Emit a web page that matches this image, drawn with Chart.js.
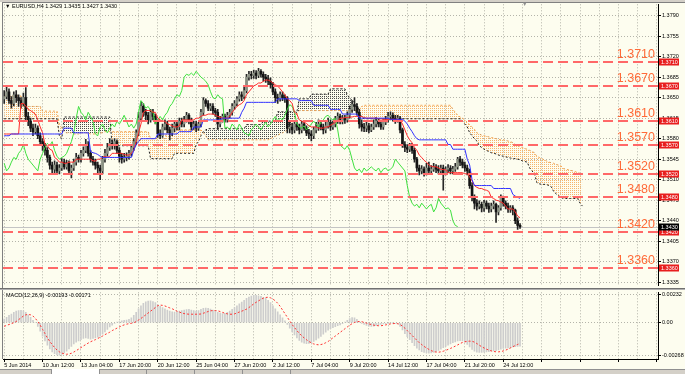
<!DOCTYPE html>
<html>
<head>
<meta charset="utf-8">
<script src="https://cdn.jsdelivr.net/npm/chart.js@4.4.1/dist/chart.umd.min.js"></script>
<style>
  body { margin:0; background:#fdfdef; }
  #wrap { position:relative; width:685px; height:374px; background:#fdfdef; overflow:hidden; font-family:"Liberation Sans","DejaVu Sans",sans-serif; }
  canvas { position:absolute; left:0; }
  .hdr { position:absolute; font-size:5.5px; color:#000; white-space:nowrap; line-height:7px; z-index:5; }
  .ln { position:absolute; z-index:4; }
</style>
</head>
<body>
<div id="wrap">
  <canvas id="c1" width="685" height="290" style="top:0"></canvas>
  <canvas id="c2" width="685" height="81" style="top:288px"></canvas>
  <div class="ln" style="left:0;top:0;width:685px;height:2px;background:#d4d0c8"></div>
  <div class="ln" style="left:2px;top:2px;width:683px;height:1px;background:#808080"></div>
  <div class="ln" style="left:2px;top:2px;width:1px;height:357px;background:#808080"></div>
  <div class="ln" style="left:0;top:288px;width:685px;height:1px;background:#707070"></div>
  <div class="ln" style="left:0;top:289px;width:685px;height:1px;background:#b0b0b0"></div>
  <div class="ln" style="left:0;top:369px;width:685px;height:5px;background:#d4d0c8"></div>
  <div class="ln" style="left:0;top:369px;width:685px;height:1px;background:#909090"></div>
  <div class="ln" style="left:51px;top:369px;width:47px;height:5px;background:#ffffff;border-left:1px solid #909090;border-right:1px solid #909090"></div>
  <div class="ln" style="left:146px;top:369px;width:1px;height:5px;background:#909090"></div>
  <div class="ln" style="left:194px;top:369px;width:1px;height:5px;background:#909090"></div>
  <div class="ln" style="left:242px;top:369px;width:1px;height:5px;background:#909090"></div>
  <div class="ln" style="left:290px;top:369px;width:1px;height:5px;background:#909090"></div>
  <div class="hdr" style="left:5px;top:3px">▼ EURUSD,H4 1.3429 1.3435 1.3427 1.3430</div>
  <div class="hdr" style="left:522px;top:1px;color:#909090">▼</div>
  <div class="hdr" style="left:6px;top:292px">MACD(12,26,9) -0.00193 -0.00171</div>
</div>
<script>
// ---------- data ----------
const xTickLabels = ['5 Jun 2014','10 Jun 12:00','13 Jun 04:00','17 Jun 20:00','20 Jun 12:00','25 Jun 04:00','27 Jun 20:00','2 Jul 12:00','7 Jul 04:00','9 Jul 20:00','14 Jul 12:00','17 Jul 04:00','21 Jul 20:00','24 Jul 12:00'];
const priceTicks = [1.3790,1.3755,1.3720,1.3685,1.3650,1.3615,1.3580,1.3545,1.3510,1.3475,1.3440,1.3405,1.3370,1.3335];
const levels = [1.3710,1.3670,1.3610,1.3570,1.3520,1.3480,1.3420,1.3360];
const lastPrice = 1.3430;
const macdTicks = [0.00232, 0, -0.00268];
const macdTickLabels = ['0.00232','0.00','-0.00268'];
const firstOpen = 1.3648;

const close = [
1.3652,1.3660,1.3645,1.3640,1.3655,1.3650,1.3645,1.3640,1.3650,1.3618,
1.3610,1.3598,1.3592,1.3598,1.3585,1.3575,1.3568,1.3560,1.3548,1.3535,
1.3528,1.3535,1.3525,1.3530,1.3540,1.3532,1.3538,1.3525,1.3530,1.3540,
1.3548,1.3545,1.3555,1.3560,1.3570,1.3555,1.3545,1.3540,1.3535,1.3530,
1.3525,1.3545,1.3555,1.3565,1.3572,1.3568,1.3575,1.3560,1.3550,1.3545,
1.3548,1.3550,1.3555,1.3565,1.3575,1.3590,1.3615,1.3635,1.3625,1.3620,
1.3612,1.3625,1.3618,1.3610,1.3588,1.3585,1.3600,1.3605,1.3595,1.3590,
1.3598,1.3605,1.3600,1.3610,1.3605,1.3612,1.3620,1.3610,1.3600,1.3605,
1.3598,1.3605,1.3625,1.3645,1.3640,1.3632,1.3635,1.3628,1.3625,1.3605,
1.3612,1.3618,1.3612,1.3620,1.3625,1.3635,1.3640,1.3648,1.3655,1.3652,
1.3662,1.3685,1.3690,1.3688,1.3692,1.3688,1.3695,1.3690,1.3685,1.3682,
1.3678,1.3672,1.3660,1.3650,1.3648,1.3655,1.3650,1.3648,1.3598,1.3600,
1.3595,1.3605,1.3600,1.3595,1.3605,1.3598,1.3590,1.3588,1.3585,1.3595,
1.3600,1.3605,1.3600,1.3595,1.3602,1.3608,1.3600,1.3605,1.3612,1.3618,
1.3610,1.3615,1.3612,1.3620,1.3630,1.3638,1.3635,1.3625,1.3605,1.3600,
1.3598,1.3602,1.3595,1.3600,1.3605,1.3610,1.3605,1.3600,1.3608,1.3612,
1.3618,1.3620,1.3615,1.3612,1.3615,1.3595,1.3570,1.3565,1.3562,1.3568,
1.3560,1.3545,1.3530,1.3525,1.3528,1.3522,1.3530,1.3525,1.3528,1.3532,
1.3528,1.3525,1.3530,1.3522,1.3528,1.3530,1.3525,1.3528,1.3532,1.3545,
1.3540,1.3535,1.3530,1.3525,1.3500,1.3480,1.3470,1.3465,1.3468,1.3462,
1.3470,1.3465,1.3460,1.3465,1.3468,1.3455,1.3462,1.3478,1.3470,1.3465,
1.3460,1.3462,1.3458,1.3440,1.3432,1.3430];

const high = [
1.3662,1.3668,1.3665,1.3652,1.3660,1.3662,1.3655,1.3650,1.3658,1.3667,
1.3625,1.3615,1.3605,1.3605,1.3602,1.3590,1.3580,1.3572,1.3565,1.3552,
1.3540,1.3542,1.3540,1.3536,1.3546,1.3545,1.3543,1.3542,1.3535,1.3545,
1.3555,1.3552,1.3560,1.3566,1.3579,1.3575,1.3560,1.3550,1.3545,1.3540,
1.3535,1.3550,1.3562,1.3572,1.3580,1.3578,1.3580,1.3578,1.3565,1.3555,
1.3555,1.3556,1.3560,1.3570,1.3580,1.3595,1.3625,1.3643,1.3640,1.3630,
1.3625,1.3630,1.3630,1.3622,1.3612,1.3595,1.3605,1.3612,1.3610,1.3600,
1.3605,1.3610,1.3610,1.3615,1.3615,1.3618,1.3625,1.3623,1.3615,1.3610,
1.3610,1.3608,1.3630,1.3650,1.3648,1.3645,1.3640,1.3640,1.3632,1.3630,
1.3618,1.3622,1.3622,1.3625,1.3630,1.3640,1.3645,1.3652,1.3660,1.3660,
1.3668,1.3690,1.3695,1.3695,1.3697,1.3696,1.3700,1.3698,1.3694,1.3690,
1.3688,1.3684,1.3676,1.3665,1.3656,1.3660,1.3660,1.3655,1.3652,1.3608,
1.3606,1.3610,1.3610,1.3605,1.3610,1.3610,1.3602,1.3596,1.3594,1.3600,
1.3608,1.3612,1.3610,1.3605,1.3608,1.3615,1.3612,1.3610,1.3618,1.3624,
1.3622,1.3620,1.3620,1.3626,1.3636,1.3645,1.3650,1.3640,1.3630,1.3612,
1.3606,1.3608,1.3606,1.3605,1.3612,1.3616,1.3614,1.3610,1.3612,1.3618,
1.3625,1.3626,1.3624,1.3620,1.3620,1.3618,1.3598,1.3575,1.3570,1.3572,
1.3572,1.3564,1.3548,1.3535,1.3534,1.3532,1.3538,1.3540,1.3534,1.3538,
1.3536,1.3534,1.3535,1.3535,1.3532,1.3536,1.3534,1.3533,1.3538,1.3548,
1.3550,1.3545,1.3540,1.3535,1.3528,1.3505,1.3484,1.3476,1.3474,1.3472,
1.3475,1.3474,1.3470,1.3470,1.3474,1.3470,1.3466,1.3484,1.3482,1.3474,
1.3470,1.3466,1.3466,1.3460,1.3445,1.3435];

const low = [
1.3640,1.3648,1.3640,1.3632,1.3636,1.3642,1.3635,1.3632,1.3636,1.3612,
1.3602,1.3592,1.3585,1.3588,1.3580,1.3570,1.3560,1.3552,1.3540,1.3528,
1.3520,1.3522,1.3520,1.3520,1.3526,1.3528,1.3528,1.3522,1.3513,1.3526,
1.3535,1.3540,1.3540,1.3550,1.3556,1.3550,1.3540,1.3535,1.3528,1.3522,
1.3510,1.3520,1.3540,1.3550,1.3560,1.3562,1.3562,1.3555,1.3540,1.3538,
1.3540,1.3542,1.3545,1.3550,1.3560,1.3570,1.3585,1.3610,1.3618,1.3612,
1.3605,1.3608,1.3612,1.3605,1.3582,1.3580,1.3582,1.3595,1.3590,1.3578,
1.3585,1.3592,1.3595,1.3595,1.3600,1.3600,1.3608,1.3605,1.3595,1.3596,
1.3592,1.3594,1.3600,1.3620,1.3635,1.3628,1.3628,1.3622,1.3618,1.3596,
1.3600,1.3608,1.3608,1.3608,1.3615,1.3620,1.3630,1.3636,1.3644,1.3645,
1.3648,1.3658,1.3680,1.3682,1.3683,1.3682,1.3684,1.3685,1.3678,1.3676,
1.3672,1.3666,1.3655,1.3642,1.3640,1.3644,1.3645,1.3642,1.3590,1.3590,
1.3588,1.3590,1.3594,1.3588,1.3590,1.3594,1.3585,1.3580,1.3576,1.3580,
1.3590,1.3594,1.3595,1.3588,1.3590,1.3598,1.3594,1.3596,1.3600,1.3606,
1.3605,1.3605,1.3606,1.3608,1.3615,1.3625,1.3628,1.3620,1.3598,1.3593,
1.3592,1.3592,1.3590,1.3592,1.3596,1.3600,1.3600,1.3596,1.3596,1.3604,
1.3608,1.3612,1.3610,1.3606,1.3608,1.3590,1.3565,1.3558,1.3556,1.3558,
1.3555,1.3540,1.3524,1.3518,1.3520,1.3516,1.3518,1.3520,1.3520,1.3524,
1.3522,1.3520,1.3520,1.3492,1.3518,1.3522,1.3520,1.3520,1.3524,1.3528,
1.3534,1.3530,1.3524,1.3518,1.3495,1.3474,1.3460,1.3458,1.3460,1.3455,
1.3456,1.3460,1.3454,1.3455,1.3460,1.3437,1.3450,1.3458,1.3465,1.3460,
1.3454,1.3454,1.3450,1.3435,1.3425,1.3427];

const tenkan = [
1.3588,1.3588,1.3588,1.3588,1.3588,1.3588,1.3588,1.3640,1.3640,1.3636,
1.3630,1.3628,1.3625,1.3622,1.3612,1.3600,1.3590,1.3570,1.3568,1.3562,
1.3560,1.3548,1.3545,1.3540,1.3540,1.3538,1.3538,1.3540,1.3540,1.3540,
1.3545,1.3545,1.3545,1.3545,1.3545,1.3545,1.3545,1.3542,1.3542,1.3545,
1.3545,1.3548,1.3550,1.3548,1.3550,1.3555,1.3555,1.3555,1.3555,1.3555,
1.3553,1.3552,1.3552,1.3555,1.3560,1.3575,1.3590,1.3605,1.3625,1.3628,
1.3628,1.3628,1.3625,1.3625,1.3615,1.3612,1.3610,1.3610,1.3605,1.3604,
1.3602,1.3600,1.3600,1.3602,1.3612,1.3612,1.3612,1.3612,1.3612,1.3612,
1.3615,1.3615,1.3618,1.3620,1.3620,1.3622,1.3622,1.3622,1.3620,1.3618,
1.3617,1.3615,1.3615,1.3615,1.3618,1.3625,1.3630,1.3635,1.3638,1.3640,
1.3645,1.3655,1.3660,1.3665,1.3670,1.3672,1.3675,1.3675,1.3678,1.3680,
1.3680,1.3678,1.3675,1.3672,1.3670,1.3665,1.3660,1.3655,1.3648,1.3645,
1.3640,1.3625,1.3622,1.3612,1.3610,1.3608,1.3606,1.3602,1.3600,1.3600,
1.3600,1.3598,1.3598,1.3598,1.3600,1.3600,1.3603,1.3605,1.3608,1.3610,
1.3615,1.3615,1.3616,1.3616,1.3617,1.3617,1.3618,1.3618,1.3618,1.3618,
1.3616,1.3615,1.3615,1.3615,1.3615,1.3615,1.3614,1.3614,1.3613,1.3613,
1.3613,1.3613,1.3613,1.3613,1.3613,1.3612,1.3605,1.3595,1.3585,1.3578,
1.3573,1.3565,1.3560,1.3552,1.3548,1.3543,1.3540,1.3535,1.3533,1.3532,
1.3532,1.3530,1.3528,1.3527,1.3527,1.3522,1.3522,1.3522,1.3522,1.3522,
1.3522,1.3522,1.3520,1.3520,1.3515,1.3508,1.3500,1.3497,1.3495,1.3495,
1.3493,1.3492,1.3490,1.3480,1.3478,1.3475,1.3474,1.3472,1.3470,1.3465,
1.3460,1.3460,1.3460,1.3455,1.3448,1.3445];

const kijun = [
1.3585,1.3585,1.3585,1.3588,1.3588,1.3588,1.3588,1.3588,1.3588,1.3588,
1.3588,1.3588,1.3588,1.3588,1.3588,1.3588,1.3588,1.3588,1.3588,1.3588,
1.3588,1.3588,1.3588,1.3588,1.3588,1.3598,1.3598,1.3598,1.3598,1.3590,
1.3590,1.3590,1.3590,1.3590,1.3590,1.3590,1.3558,1.3556,1.3555,1.3553,
1.3550,1.3548,1.3548,1.3548,1.3548,1.3548,1.3548,1.3548,1.3548,1.3548,
1.3548,1.3548,1.3548,1.3548,1.3560,1.3570,1.3575,1.3580,1.3580,1.3580,
1.3580,1.3580,1.3580,1.3580,1.3588,1.3588,1.3588,1.3588,1.3588,1.3588,
1.3588,1.3588,1.3588,1.3592,1.3592,1.3592,1.3592,1.3592,1.3592,1.3600,
1.3600,1.3600,1.3600,1.3612,1.3612,1.3612,1.3612,1.3612,1.3612,1.3612,
1.3612,1.3615,1.3615,1.3615,1.3615,1.3615,1.3615,1.3615,1.3615,1.3625,
1.3632,1.3642,1.3642,1.3642,1.3642,1.3642,1.3642,1.3642,1.3642,1.3642,
1.3642,1.3642,1.3642,1.3642,1.3648,1.3648,1.3648,1.3648,1.3648,1.3648,
1.3648,1.3648,1.3648,1.3645,1.3645,1.3645,1.3645,1.3645,1.3645,1.3637,
1.3637,1.3637,1.3637,1.3637,1.3637,1.3637,1.3630,1.3630,1.3630,1.3630,
1.3630,1.3622,1.3622,1.3622,1.3622,1.3622,1.3622,1.3622,1.3615,1.3615,
1.3615,1.3615,1.3615,1.3615,1.3615,1.3615,1.3615,1.3615,1.3615,1.3615,
1.3615,1.3613,1.3613,1.3613,1.3613,1.3613,1.3613,1.3610,1.3605,1.3598,
1.3592,1.3585,1.3580,1.3578,1.3578,1.3578,1.3578,1.3578,1.3578,1.3578,
1.3578,1.3578,1.3578,1.3578,1.3578,1.3570,1.3570,1.3562,1.3562,1.3562,
1.3562,1.3562,1.3562,1.3545,1.3535,1.3510,1.3500,1.3500,1.3500,1.3500,
1.3500,1.3500,1.3500,1.3500,1.3495,1.3495,1.3495,1.3495,1.3495,1.3495,
1.3495,1.3495,1.3485,1.3482,1.3480,1.3478];

const senkouA = [
1.3653,1.3653,1.3653,1.3653,1.3653,1.3653,1.3653,1.3653,1.3635,1.3635,
1.3635,1.3635,1.3635,1.3635,1.3635,1.3635,1.3627,1.3627,1.3627,1.3627,
1.3627,1.3627,1.3627,1.3605,1.3598,1.3592,1.3590,1.3590,1.3590,1.3588,
1.3588,1.3588,1.3590,1.3590,1.3590,1.3590,1.3588,1.3588,1.3588,1.3590,
1.3590,1.3590,1.3592,1.3592,1.3592,1.3592,1.3592,1.3592,1.3592,1.3592,
1.3592,1.3592,1.3592,1.3592,1.3592,1.3592,1.3592,1.3592,1.3592,1.3592,
1.3592,1.3580,1.3580,1.3580,1.3580,1.3580,1.3580,1.3580,1.3595,1.3595,
1.3595,1.3595,1.3595,1.3595,1.3595,1.3595,1.3595,1.3595,1.3595,1.3595,
1.3595,1.3595,1.3595,1.3590,1.3585,1.3578,1.3578,1.3578,1.3578,1.3578,
1.3578,1.3578,1.3578,1.3578,1.3578,1.3578,1.3578,1.3578,1.3578,1.3578,
1.3578,1.3578,1.3578,1.3578,1.3578,1.3578,1.3578,1.3578,1.3578,1.3578,
1.3578,1.3580,1.3582,1.3584,1.3586,1.3588,1.3590,1.3592,1.3595,1.3600,
1.3607,1.3615,1.3622,1.3628,1.3628,1.3628,1.3628,1.3628,1.3628,1.3628,
1.3628,1.3628,1.3628,1.3628,1.3628,1.3628,1.3628,1.3628,1.3628,1.3628,
1.3628,1.3628,1.3628,1.3628,1.3628,1.3628,1.3628,1.3628,1.3632,1.3635,
1.3637,1.3637,1.3637,1.3637,1.3637,1.3637,1.3637,1.3637,1.3637,1.3637,
1.3637,1.3637,1.3637,1.3637,1.3637,1.3637,1.3637,1.3637,1.3637,1.3637,
1.3637,1.3637,1.3637,1.3637,1.3637,1.3637,1.3637,1.3637,1.3637,1.3637,
1.3637,1.3637,1.3637,1.3637,1.3637,1.3637,1.3637,1.3630,1.3625,1.3620,
1.3617,1.3615,1.3612,1.3608,1.3604,1.3600,1.3596,1.3590,1.3588,1.3586,
1.3585,1.3584,1.3583,1.3582,1.3581,1.3580,1.3579,1.3578,1.3578,1.3577,
1.3576,1.3575,1.3573,1.3570,1.3568,1.3566,1.3565,1.3563,1.3562,1.3560,
1.3558,1.3556,1.3550,1.3548,1.3546,1.3544,1.3542,1.3540,1.3539,1.3538,
1.3536,1.3535,1.3534,1.3529,1.3528,1.3527,1.3526,1.3525,1.3524,1.3522,
1.3521,1.3520];

const senkouB = [
1.3614,1.3614,1.3614,1.3614,1.3614,1.3614,1.3614,1.3614,1.3614,1.3614,
1.3614,1.3614,1.3614,1.3614,1.3614,1.3614,1.3614,1.3614,1.3614,1.3614,
1.3614,1.3614,1.3614,1.3585,1.3580,1.3617,1.3617,1.3617,1.3617,1.3617,
1.3617,1.3617,1.3617,1.3617,1.3617,1.3617,1.3617,1.3617,1.3617,1.3617,
1.3617,1.3617,1.3617,1.3617,1.3617,1.3568,1.3568,1.3568,1.3568,1.3568,
1.3568,1.3568,1.3568,1.3568,1.3568,1.3568,1.3568,1.3568,1.3568,1.3568,
1.3568,1.3546,1.3546,1.3546,1.3546,1.3546,1.3546,1.3546,1.3546,1.3546,
1.3546,1.3555,1.3555,1.3555,1.3555,1.3555,1.3555,1.3555,1.3555,1.3555,
1.3570,1.3575,1.3585,1.3592,1.3595,1.3597,1.3597,1.3597,1.3597,1.3597,
1.3597,1.3597,1.3597,1.3597,1.3597,1.3597,1.3597,1.3597,1.3597,1.3597,
1.3597,1.3604,1.3604,1.3604,1.3604,1.3604,1.3604,1.3604,1.3610,1.3610,
1.3610,1.3610,1.3610,1.3610,1.3626,1.3626,1.3626,1.3626,1.3626,1.3626,
1.3626,1.3626,1.3626,1.3648,1.3648,1.3648,1.3648,1.3648,1.3656,1.3656,
1.3656,1.3656,1.3656,1.3656,1.3656,1.3656,1.3665,1.3665,1.3665,1.3665,
1.3665,1.3665,1.3665,1.3655,1.3650,1.3645,1.3642,1.3640,1.3625,1.3616,
1.3614,1.3614,1.3614,1.3614,1.3614,1.3614,1.3614,1.3614,1.3614,1.3614,
1.3614,1.3614,1.3614,1.3614,1.3614,1.3614,1.3614,1.3614,1.3614,1.3614,
1.3614,1.3614,1.3614,1.3614,1.3614,1.3614,1.3614,1.3614,1.3614,1.3614,
1.3614,1.3614,1.3614,1.3614,1.3614,1.3614,1.3614,1.3614,1.3614,1.3614,
1.3614,1.3610,1.3605,1.3600,1.3590,1.3585,1.3580,1.3576,1.3568,1.3565,
1.3562,1.3560,1.3558,1.3556,1.3555,1.3554,1.3552,1.3551,1.3550,1.3549,
1.3548,1.3547,1.3546,1.3546,1.3545,1.3544,1.3542,1.3541,1.3540,1.3530,
1.3525,1.3520,1.3505,1.3503,1.3502,1.3502,1.3502,1.3500,1.3498,1.3490,
1.3486,1.3483,1.3480,1.3478,1.3478,1.3478,1.3478,1.3478,1.3478,1.3478,
1.3470,1.3465];

const macdHist = [
0.00030,0.00045,0.00060,0.00072,0.00085,0.00095,0.00100,0.00102,0.00098,0.00085,
0.00065,0.00045,0.00020,0.00000,-0.00030,-0.00070,-0.00110,-0.00150,-0.00185,-0.00215,
-0.00240,-0.00255,-0.00265,-0.00267,-0.00262,-0.00250,-0.00235,-0.00215,-0.00195,-0.00175,
-0.00160,-0.00150,-0.00140,-0.00130,-0.00125,-0.00130,-0.00135,-0.00130,-0.00125,-0.00120,
-0.00110,-0.00095,-0.00075,-0.00055,-0.00035,-0.00020,-0.00005,0.00005,0.00010,0.00015,
0.00020,0.00022,0.00028,0.00040,0.00060,0.00085,0.00115,0.00140,0.00160,0.00172,
0.00178,0.00180,0.00175,0.00165,0.00150,0.00135,0.00125,0.00115,0.00105,0.00095,
0.00090,0.00088,0.00090,0.00095,0.00100,0.00105,0.00108,0.00110,0.00105,0.00100,
0.00095,0.00100,0.00110,0.00118,0.00120,0.00118,0.00112,0.00105,0.00095,0.00085,
0.00080,0.00075,0.00078,0.00085,0.00095,0.00110,0.00125,0.00140,0.00155,0.00170,
0.00185,0.00200,0.00212,0.00220,0.00225,0.00225,0.00222,0.00218,0.00210,0.00200,
0.00185,0.00165,0.00140,0.00115,0.00090,0.00065,0.00040,0.00015,-0.00015,-0.00045,
-0.00075,-0.00100,-0.00125,-0.00145,-0.00160,-0.00168,-0.00172,-0.00170,-0.00165,-0.00155,
-0.00142,-0.00128,-0.00112,-0.00095,-0.00078,-0.00062,-0.00050,-0.00040,-0.00032,-0.00025,
-0.00018,-0.00008,0.00005,0.00020,0.00035,0.00042,0.00040,0.00028,0.00010,-0.00005,
-0.00015,-0.00022,-0.00028,-0.00030,-0.00028,-0.00025,-0.00020,-0.00015,-0.00010,-0.00008,
-0.00005,-0.00002,-0.00002,-0.00005,-0.00010,-0.00030,-0.00060,-0.00090,-0.00115,-0.00140,
-0.00165,-0.00190,-0.00210,-0.00225,-0.00238,-0.00245,-0.00250,-0.00252,-0.00250,-0.00245,
-0.00238,-0.00228,-0.00218,-0.00205,-0.00195,-0.00185,-0.00175,-0.00165,-0.00158,-0.00150,
-0.00148,-0.00150,-0.00160,-0.00178,-0.00200,-0.00220,-0.00235,-0.00242,-0.00245,-0.00245,
-0.00242,-0.00240,-0.00238,-0.00235,-0.00232,-0.00230,-0.00225,-0.00218,-0.00212,-0.00210,
-0.00208,-0.00205,-0.00200,-0.00198,-0.00195,-0.00193];

const macdSignal = [
-0.00030,-0.00022,-0.00015,-0.00008,0.00000,0.00010,0.00025,0.00040,0.00055,0.00065,
0.00068,0.00065,0.00055,0.00035,0.00010,-0.00020,-0.00055,-0.00090,-0.00125,-0.00155,
-0.00180,-0.00205,-0.00225,-0.00240,-0.00250,-0.00257,-0.00260,-0.00258,-0.00252,-0.00242,
-0.00230,-0.00218,-0.00205,-0.00192,-0.00180,-0.00168,-0.00157,-0.00148,-0.00140,-0.00130,
-0.00120,-0.00110,-0.00098,-0.00088,-0.00078,-0.00065,-0.00055,-0.00045,-0.00035,-0.00025,
-0.00018,-0.00012,-0.00008,-0.00005,-0.00001,0.00010,0.00022,0.00035,0.00050,0.00065,
0.00080,0.00095,0.00110,0.00125,0.00140,0.00145,0.00143,0.00138,0.00130,0.00122,
0.00115,0.00105,0.00095,0.00088,0.00080,0.00075,0.00072,0.00070,0.00070,0.00070,
0.00070,0.00070,0.00072,0.00078,0.00085,0.00092,0.00098,0.00100,0.00100,0.00098,
0.00092,0.00085,0.00078,0.00073,0.00070,0.00070,0.00073,0.00080,0.00088,0.00095,
0.00103,0.00112,0.00125,0.00140,0.00155,0.00168,0.00180,0.00192,0.00202,0.00208,
0.00210,0.00205,0.00195,0.00180,0.00160,0.00135,0.00105,0.00075,0.00045,0.00015,
-0.00015,-0.00040,-0.00065,-0.00088,-0.00108,-0.00125,-0.00140,-0.00155,-0.00165,-0.00175,
-0.00180,-0.00182,-0.00180,-0.00175,-0.00165,-0.00155,-0.00140,-0.00125,-0.00110,-0.00095,
-0.00080,-0.00065,-0.00050,-0.00035,-0.00020,-0.00008,0.00002,0.00008,0.00010,0.00008,
0.00003,-0.00003,-0.00010,-0.00015,-0.00020,-0.00023,-0.00025,-0.00025,-0.00022,-0.00018,
-0.00014,-0.00010,-0.00008,-0.00006,-0.00008,-0.00015,-0.00028,-0.00045,-0.00065,-0.00085,
-0.00105,-0.00125,-0.00145,-0.00165,-0.00180,-0.00195,-0.00208,-0.00220,-0.00230,-0.00238,
-0.00242,-0.00243,-0.00240,-0.00235,-0.00228,-0.00220,-0.00212,-0.00203,-0.00193,-0.00183,
-0.00172,-0.00163,-0.00157,-0.00153,-0.00152,-0.00153,-0.00160,-0.00172,-0.00185,-0.00198,
-0.00208,-0.00218,-0.00226,-0.00232,-0.00237,-0.00240,-0.00240,-0.00238,-0.00233,-0.00226,
-0.00218,-0.00208,-0.00198,-0.00188,-0.00179,-0.00171];

// ---------- derived structures ----------
const SLOTS = 273;           // bar slots across the plot (bars + cloud shift + margin)
const CHIKOU_SHIFT = 26;
const categories = Array.from({length: SLOTS}, (_, i) => (i % 16 === 0 && xTickLabels[i / 16]) || '');
const open = close.map((c, i) => i === 0 ? firstOpen : close[i - 1]);
const wickData = high.map((h, i) => [Math.min(low[i], open[i], close[i]), Math.max(h, open[i], close[i])]);
const bodyData = close.map((c, i) => [open[i], c]);
const bull = '#8b9183', bear = '#141414';
const bodyColors = close.map((c, i) => c >= open[i] ? bull : bear);
const chikou = close.slice(CHIKOU_SHIFT);

const GRID = '#b4b4aa';
Chart.defaults.font.family = '"Liberation Sans", Arial, sans-serif';
Chart.defaults.color = '#000';

function dotPattern(color, w, h) {
  const c = document.createElement('canvas');
  c.width = w; c.height = h;
  const g = c.getContext('2d');
  g.fillStyle = color; g.fillRect(0, 0, 1, 1);
  return g.createPattern(c, 'repeat');
}
const cv1 = document.getElementById('c1').getContext('2d');
const orangeDots = dotPattern('#f6b46c', 2, 2);
const blackDots = dotPattern('#4a4a4a', 2, 2);

const every8 = s => { s.ticks = s.ticks.filter(t => t.value % 8 === 0); };

const overlay = {
  id: 'overlay',
  beforeDatasetsDraw(chart) {
    const {ctx, chartArea: a, scales: {y}} = chart;
    const yb = Math.round(y.getPixelForValue(lastPrice)) + 0.5;
    ctx.save();
    ctx.strokeStyle = '#c4c4c4'; ctx.lineWidth = 1;
    ctx.beginPath(); ctx.moveTo(a.left, yb); ctx.lineTo(a.right, yb); ctx.stroke();
    ctx.restore();
  },
  afterDatasetsDraw(chart) {
    const {ctx, chartArea: a, scales: {y}} = chart;
    ctx.save();
    ctx.beginPath(); ctx.rect(a.left, a.top, a.right - a.left, a.bottom - a.top); ctx.clip();
    levels.forEach(v => {
      const py = Math.round(y.getPixelForValue(v));
      ctx.strokeStyle = '#ff6868'; ctx.lineWidth = 2; ctx.setLineDash([10, 5]);
      ctx.beginPath(); ctx.moveTo(a.left, py); ctx.lineTo(a.right, py); ctx.stroke();
      ctx.setLineDash([]);
      ctx.fillStyle = '#ff6a38';
      ctx.font = '12.5px "Liberation Sans", Arial, sans-serif';
      ctx.textAlign = 'right'; ctx.textBaseline = 'alphabetic';
      ctx.fillText(v.toFixed(4), a.right - 3, py - 4);
    });
    ctx.restore();
  },
  afterDraw(chart) {
    const {ctx, chartArea: a, scales: {y}} = chart;
    ctx.save();
    ctx.font = '5.5px "Liberation Sans", Arial, sans-serif';
    ctx.textAlign = 'left'; ctx.textBaseline = 'middle';
    const box = (v, color) => {
      const py = Math.round(y.getPixelForValue(v));
      ctx.fillStyle = color;
      ctx.fillRect(a.right + 1, py - 3.5, 20, 7);
      ctx.fillStyle = '#fff';
      ctx.fillText(v.toFixed(4), a.right + 3, py + 0.5);
    };
    levels.forEach(v => box(v, '#e81e1e'));
    box(lastPrice, '#000');
    ctx.restore();
  }
};

new Chart(cv1, {
  type: 'bar',
  data: {
    labels: categories,
    datasets: [
      { type: 'line', label: 'Senkou A', data: senkouA, borderColor: '#f2a04c', borderWidth: 1, borderDash: [2, 2], pointRadius: 0, fill: false, order: 20 },
      { type: 'line', label: 'Senkou B', data: senkouB, borderColor: '#1e1e1e', borderWidth: 1, borderDash: [2, 2], pointRadius: 0,
        fill: { target: 0, above: blackDots, below: orangeDots }, order: 19 },
      { type: 'bar', label: 'wick', data: wickData, backgroundColor: '#262626', barThickness: 1, grouped: false, order: 10 },
      { type: 'bar', label: 'body', data: bodyData, backgroundColor: bodyColors, barThickness: 2, grouped: false, order: 9 },
      { type: 'line', label: 'Chikou', data: chikou, borderColor: '#3ee03e', borderWidth: 1, pointRadius: 0, order: 4 },
      { type: 'line', label: 'Tenkan', data: tenkan, borderColor: '#ff2a2a', borderWidth: 1, pointRadius: 0, order: 3 },
      { type: 'line', label: 'Kijun', data: kijun, borderColor: '#3030ff', borderWidth: 1, pointRadius: 0, order: 2 }
    ]
  },
  options: {
    responsive: false, maintainAspectRatio: false, animation: false, devicePixelRatio: 1,
    layout: { padding: { left: 3, top: 3, right: 0, bottom: 1 } },
    plugins: { legend: { display: false }, tooltip: { enabled: false } },
    scales: {
      x: {
        offset: true,
        grid: { display: true, offset: false, color: GRID, lineWidth: 1, drawTicks: false },
        border: { display: false, dash: [1, 2] },
        ticks: { display: false, autoSkip: false },
        afterBuildTicks: every8,
        afterFit: s => { s.height = 0; }
      },
      y: {
        position: 'right', min: 1.332912, max: 1.380931,
        afterBuildTicks: s => { s.ticks = priceTicks.map(v => ({ value: v })); },
        ticks: { callback: v => v.toFixed(4), font: { size: 5.5 }, color: '#000', padding: 1 },
        grid: { color: GRID, drawTicks: true, tickLength: 3, tickColor: '#000' },
        border: { display: true, color: '#000', width: 1, dash: [1, 2] },
        afterFit: s => { s.width = 27; }
      }
    }
  },
  plugins: [overlay]
});

new Chart(document.getElementById('c2').getContext('2d'), {
  type: 'bar',
  data: {
    labels: categories,
    datasets: [
      { type: 'line', label: 'Signal', data: macdSignal, borderColor: '#ff3030', borderWidth: 1, borderDash: [2, 2], pointRadius: 0, order: 1 },
      { type: 'bar', label: 'MACD', data: macdHist, backgroundColor: '#cdcdcd', barThickness: 1, order: 2 }
    ]
  },
  options: {
    responsive: false, maintainAspectRatio: false, animation: false, devicePixelRatio: 1,
    layout: { padding: { left: 3, top: 3, right: 0, bottom: 0 } },
    plugins: { legend: { display: false }, tooltip: { enabled: false } },
    scales: {
      x: {
        offset: true,
        grid: { display: true, offset: false, color: GRID, drawTicks: true, tickLength: 3,
                tickColor: c => (c.tick && c.tick.value % 16 === 0) ? '#000' : 'rgba(0,0,0,0)' },
        border: { display: true, color: '#000', dash: [1, 2] },
        ticks: { autoSkip: false, maxRotation: 0, minRotation: 0, align: 'start', padding: 0,
                 font: { size: 5.5 }, color: '#000',
                 callback: v => (v % 16 === 0 ? categories[v] : '') },
        afterBuildTicks: every8,
        afterFit: s => { s.height = 10; }
      },
      y: {
        position: 'right', min: -0.002991, max: 0.002506,
        afterBuildTicks: s => { s.ticks = macdTicks.map(v => ({ value: v })); },
        ticks: { callback: v => macdTickLabels[macdTicks.indexOf(v)], font: { size: 5.5 }, color: '#000', padding: 1 },
        grid: { color: GRID, drawTicks: true, tickLength: 3, tickColor: '#000' },
        border: { display: true, color: '#000', width: 1, dash: [1, 2] },
        afterFit: s => { s.width = 27; }
      }
    }
  }
});
</script>
</body>
</html>
